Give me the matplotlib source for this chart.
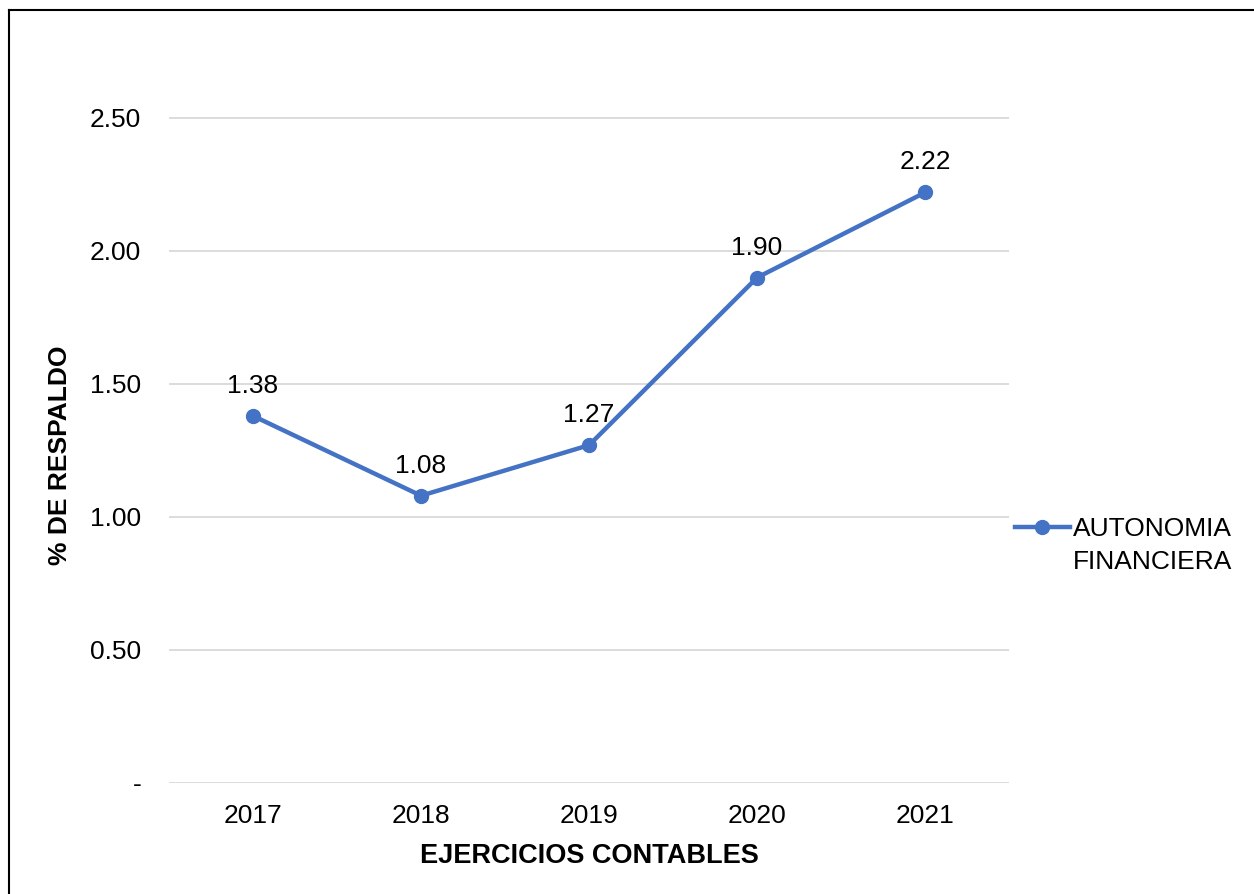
import matplotlib
matplotlib.use("Agg")
import matplotlib.pyplot as plt
from matplotlib.lines import Line2D

# datos del grafico
anios = ["2017", "2018", "2019", "2020", "2021"]
autonomia = [1.38, 1.08, 1.27, 1.90, 2.22]
ticks_y = [0, 0.5, 1.0, 1.5, 2.0, 2.5]
etiquetas_y = ["-", "0.50", "1.00", "1.50", "2.00", "2.50"]

plt.rcParams["font.family"] = ["Liberation Sans", "DejaVu Sans"]
azul = "#4472C4"
fs = 19

fig = plt.figure(figsize=(12.54, 8.94), dpi=100)
ax = fig.add_axes([0.1348, 0.1242, 0.6699, 0.8182])

x = list(range(len(anios)))
ax.plot(x, autonomia, color=azul, linewidth=3.2, marker="o", markersize=10,
        label="AUTONOMIA", zorder=3)

for xi, v in zip(x, autonomia):
    ax.annotate(f"{v:.2f}", (xi, v), xytext=(0, 13), textcoords="offset points",
                ha="center", va="bottom", fontsize=fs)

ax.set_xlim(-0.5, len(anios) - 0.5)
ax.set_ylim(0, 2.75)
ax.set_xticks(x)
ax.set_xticklabels(anios, fontsize=fs)
ax.set_yticks(ticks_y)
ax.set_yticklabels(etiquetas_y, fontsize=fs)
ax.tick_params(axis="both", length=0)
ax.tick_params(axis="y", pad=20)
ax.tick_params(axis="x", pad=15.5)

ax.grid(axis="y", color="#D9D9D9", linewidth=1.3)
ax.set_axisbelow(True)
for s in ax.spines.values():
    s.set_visible(False)

ax.set_xlabel("EJERCICIOS CONTABLES", fontsize=19.5, fontweight="bold", labelpad=10.5)
ax.set_ylabel("% DE RESPALDO", fontsize=19, fontweight="bold")
ax.yaxis.set_label_coords(-0.1155, 0.448)

leg = fig.legend(loc="center left", bbox_to_anchor=(0.8006, 0.408), frameon=False,
                 fontsize=fs, handlelength=2.1, handletextpad=0.1, borderaxespad=0)

# segunda linea de la leyenda, debajo de la primera
fig.canvas.draw()
bb = leg.get_texts()[0].get_window_extent().transformed(fig.transFigure.inverted())
fig.text(bb.x0, bb.y0 - 0.037, "FINANCIERA", fontsize=fs, ha="left", va="bottom")

# borde del grafico (izquierda y arriba)
fig.add_artist(Line2D([0.0068, 0.0068], [0, 0.9888], color="black", linewidth=1.5,
                      transform=fig.transFigure))
fig.add_artist(Line2D([0.0068, 1.0], [0.9888, 0.9888], color="black", linewidth=1.5,
                      transform=fig.transFigure))

fig.savefig("out.png", dpi=100)
